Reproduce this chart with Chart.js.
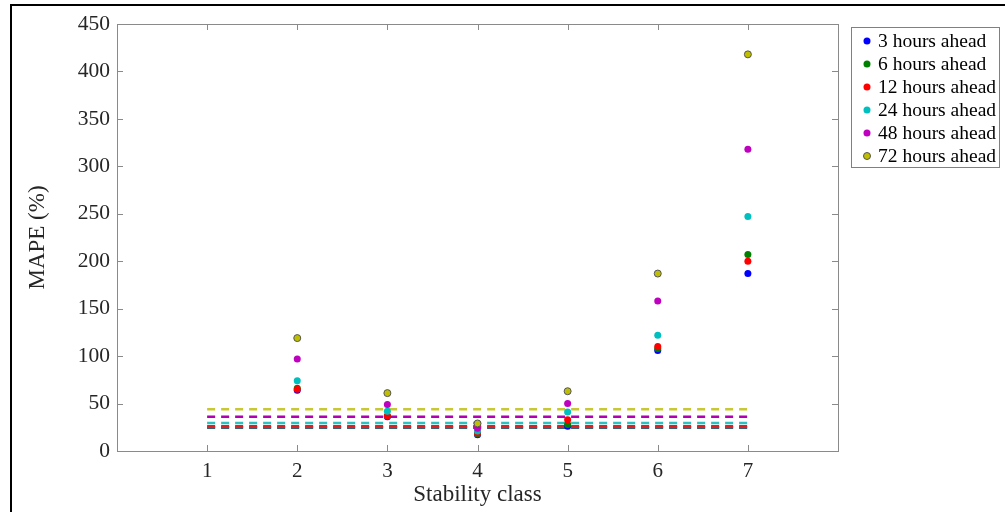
<!DOCTYPE html>
<html>
<head>
<meta charset="utf-8">
<script src="https://cdn.jsdelivr.net/npm/chart.js@4/dist/chart.umd.min.js"></script>
<style>
  html, body { margin: 0; padding: 0; background: #fff; }
  #wrap { position: relative; width: 1005px; height: 512px; overflow: hidden; }
  #frame { position: absolute; left: 10px; top: 4px; width: 1200px; height: 700px;
           border-left: 2px solid #000; border-top: 2px solid #000; pointer-events: none; }
</style>
</head>
<body>
<div id="wrap">
  <canvas id="mapeChart" width="1005" height="512"></canvas>
  <div id="frame"></div>
</div>
<script>
// stability classes on the x axis
const classes = [1, 2, 3, 4, 5, 6, 7];
const seriesNames = ["3 hours ahead", "6 hours ahead", "12 hours ahead",
                     "24 hours ahead", "48 hours ahead", "72 hours ahead"];

// MAPE (%) per stability class (class 1 has no marker)
const mape3h  = [null, 64, 36, 17, 26, 106, 187];
const mape6h  = [null, 66, 37, 18, 28, 108, 207];
const mape12h = [null, 65, 37, 19, 33, 110, 200];
const mape24h = [null, 74, 42, 21, 41, 122, 247];
const mape48h = [null, 97, 49, 24, 50, 158, 318];
const mape72h = [null, 119, 61, 29, 63, 187, 418];

// overall MAPE per horizon (dashed lines)
const overallMape = [24.5, 25, 26, 29.5, 36, 44];

const yTicks = [0, 50, 100, 150, 200, 250, 300, 350, 400, 450];

const colors = ["#0000ff", "#008000", "#ff0000", "#00bfbf", "#bf00bf", "#bfbf00"];
const lineColors = ["#4040c0", "#2a802a", "#e02020", "#30c0c0", "#b000b0", "#c8c832"];
const allMape = [mape3h, mape6h, mape12h, mape24h, mape48h, mape72h];

const datasets = [];
allMape.forEach((vals, i) => {
  datasets.push({
    type: "scatter",
    label: seriesNames[i],
    data: classes.map((c, j) => ({ x: c, y: vals[j] })).filter(p => p.y !== null),
    backgroundColor: colors[i],
    borderColor: i === 5 ? "#555" : colors[i],
    borderWidth: i === 5 ? 1 : 0,
    pointRadius: 3.5,
    pointHoverRadius: 3.5,
    order: 5 - i
  });
});
overallMape.forEach((v, i) => {
  datasets.push({
    type: "line",
    label: "",
    data: [{ x: classes[0], y: v }, { x: classes[classes.length - 1], y: v }],
    borderColor: lineColors[i],
    borderWidth: 2.5,
    borderDash: [8, 6],
    pointRadius: 0,
    fill: false,
    order: 20 - i
  });
});

const axisGray = "#8a8a8a";
const textGray = "#262626";
const serif = "'Liberation Serif', 'Times New Roman', serif";

// box around the plot, inward ticks, legend
const matlabLook = {
  id: "matlabLook",
  afterDraw(chart) {
    const { ctx, chartArea: a, scales } = chart;
    ctx.save();
    ctx.strokeStyle = axisGray;
    ctx.lineWidth = 1;
    ctx.strokeRect(Math.round(a.left) + 0.5, Math.round(a.top) + 0.5,
                   Math.round(a.right - a.left), Math.round(a.bottom - a.top));
    ctx.beginPath();
    scales.x.ticks.forEach(t => {
      const px = Math.round(scales.x.getPixelForValue(t.value)) + 0.5;
      ctx.moveTo(px, a.bottom); ctx.lineTo(px, a.bottom - 6);
      ctx.moveTo(px, a.top); ctx.lineTo(px, a.top + 6);
    });
    scales.y.ticks.forEach(t => {
      const py = Math.round(scales.y.getPixelForValue(t.value)) + 0.5;
      ctx.moveTo(a.left, py); ctx.lineTo(a.left + 6, py);
      ctx.moveTo(a.right, py); ctx.lineTo(a.right - 6, py);
    });
    ctx.stroke();

    // legend
    const lx = 851.5, ly = 27.5, lw = 148, lh = 140;
    ctx.fillStyle = "#fff";
    ctx.fillRect(lx, ly, lw, lh);
    ctx.strokeStyle = "#808080";
    ctx.strokeRect(lx, ly, lw, lh);
    ctx.font = "19.5px " + serif;
    ctx.textBaseline = "middle";
    ctx.textAlign = "left";
    chart.data.datasets.filter(d => d.type === "scatter").forEach((d, i) => {
      const cy = 41 + i * 23;
      ctx.beginPath();
      ctx.arc(867, cy, 3.5, 0, Math.PI * 2);
      ctx.fillStyle = d.backgroundColor;
      ctx.fill();
      if (d.borderWidth) { ctx.strokeStyle = d.borderColor; ctx.stroke(); }
      ctx.fillStyle = "#000";
      ctx.fillText(d.label, 878, cy + 1);
    });
    ctx.restore();
  }
};

new Chart(document.getElementById("mapeChart"), {
  data: { datasets },
  options: {
    responsive: false,
    devicePixelRatio: 1,
    animation: false,
    layout: { padding: { top: 24, right: 167, left: 0, bottom: 0 } },
    plugins: { legend: { display: false }, tooltip: { enabled: false } },
    scales: {
      x: {
        type: "linear",
        min: 0, max: 8,
        afterFit: s => { s.height = 61; },
        afterBuildTicks: s => { s.ticks = [0, 1, 2, 3, 4, 5, 6, 7, 8].map(v => ({ value: v })); },
        grid: { display: false, drawTicks: false },
        border: { display: false },
        ticks: {
          padding: 8,
          color: textGray,
          font: { family: serif, size: 21 },
          callback: v => (v >= 1 && v <= 7 ? String(v) : "")
        },
        title: {
          display: true, text: "Stability class", color: textGray,
          font: { family: serif, size: 23 }, padding: { top: 0, bottom: 3 }
        }
      },
      y: {
        type: "linear",
        min: 0, max: 450,
        afterFit: s => { s.width = 117; },
        afterBuildTicks: s => { s.ticks = yTicks.map(v => ({ value: v })); },
        grid: { display: false, drawTicks: false },
        border: { display: false },
        ticks: {
          padding: 7,
          color: textGray,
          font: { family: serif, size: 21.5 }
        },
        title: {
          display: true, text: "MAPE (%)", color: textGray,
          font: { family: serif, size: 23 }, padding: { top: 24, bottom: 0 }
        }
      }
    }
  },
  plugins: [matlabLook]
});
</script>
</body>
</html>
